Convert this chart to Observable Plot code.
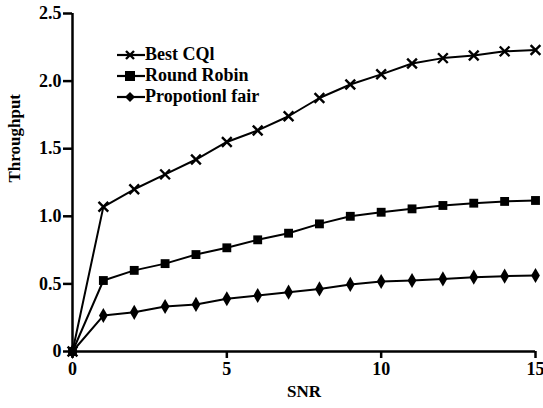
<!DOCTYPE html>
<html><head><meta charset="utf-8">
<script src="https://cdn.jsdelivr.net/npm/d3@7"></script>
<script src="https://cdn.jsdelivr.net/npm/@observablehq/plot@0.6"></script>
<style>
body{margin:0;background:#fff;}
#wrap{position:relative;width:543px;height:408px;}
#legend{position:absolute;left:116px;top:44px;font-family:"Liberation Serif","Times New Roman",serif;font-weight:bold;font-size:18px;color:#000;line-height:21px;}
#legend div{height:21px;display:flex;align-items:center;white-space:nowrap;}
#legend svg{margin-right:0px;}
</style>
</head><body>
<div id="wrap"><div id="chart"></div><div id="legend"></div></div>
<script>
const snr = [0,1,2,3,4,5,6,7,8,9,10,11,12,13,14,15];
const bestCQI = [0,1.07,1.20,1.31,1.42,1.55,1.635,1.74,1.875,1.975,2.05,2.13,2.17,2.19,2.22,2.23];
const roundRobin = [0,0.525,0.60,0.65,0.717,0.767,0.826,0.875,0.944,1.0,1.03,1.055,1.08,1.097,1.11,1.117];
const propFair = [0,0.266,0.29,0.333,0.348,0.39,0.414,0.439,0.463,0.496,0.518,0.525,0.537,0.55,0.557,0.562];
const seriesNames = ["Best CQl","Round Robin","Propotionl fair"];
const seriesSymbols = ["times","square","diamond"];
const xTicks = [0,5,10,15];
const yTicks = [0,0.5,1.0,1.5,2.0,2.5];
const yTickLabels = ["0","0.5","1.0","1.5","2.0","2.5"];

const all = [bestCQI, roundRobin, propFair];
const data = [];
all.forEach((vals,i)=>vals.forEach((v,j)=>data.push({x:snr[j],y:v,s:seriesNames[i],sym:seriesSymbols[i]})));

const font = '"Liberation Serif", "Times New Roman", serif';
const chart = Plot.plot({
  width:543, height:408,
  marginLeft:72, marginRight:8, marginTop:13, marginBottom:57,
  style:{fontFamily:font, fontSize:"18px", color:"#000", background:"#fff", overflow:"visible"},
  x:{domain:[0,15], label:null},
  y:{domain:[0,2.5], label:null},
  marks:[
    Plot.axisX({ticks:xTicks, tickSize:7, tickPadding:4, fontSize:18, fontWeight:"bold", fontFamily:font, stroke:"#000", strokeWidth:2.5, strokeOpacity:1, label:null}),
    Plot.axisY({ticks:yTicks, tickSize:9, tickPadding:2, fontSize:18, fontWeight:"bold", fontFamily:font, stroke:"#000", strokeWidth:2.5, strokeOpacity:1, label:null,
      tickFormat:d=>yTickLabels[yTicks.indexOf(d)]}),
    Plot.ruleX([0],{stroke:"#000",strokeWidth:2.5}),
    Plot.ruleY([0],{stroke:"#000",strokeWidth:2.5}),
    Plot.line(data,{x:"x",y:"y",z:"s",stroke:"#000",strokeWidth:2}),
    Plot.dot(data.filter(d=>d.sym==="times"),{x:"x",y:"y",symbol:"times",r:4.5,stroke:"#000",strokeWidth:2.4}),
    Plot.dot(data.filter(d=>d.sym==="square"),{x:"x",y:"y",symbol:"square",r:5,fill:"#000",stroke:"none"}),
    Plot.dot(data.filter(d=>d.sym==="diamond"),{x:"x",y:"y",symbol:"diamond",r:4.6,fill:"#000",stroke:"none"}),
    Plot.text(["SNR"],{frameAnchor:"bottom",dy:45,text:d=>d,fontWeight:"bold",fontSize:17,fontFamily:font}),
    Plot.text(["Throughput"],{frameAnchor:"left",dx:-58,rotate:-90,text:d=>d,fontWeight:"bold",fontSize:17,fontFamily:font})
  ]
});
document.getElementById("chart").appendChild(chart);

const leg = document.getElementById("legend");
seriesNames.forEach((name,i)=>{
  const row = document.createElement("div");
  const sym = seriesSymbols[i];
  let m = "";
  if(sym==="times") m = '<path d="M10,5 L18,13 M18,5 L10,13" stroke="#000" stroke-width="2.4"/>';
  if(sym==="square") m = '<rect x="9" y="4" width="10" height="10" fill="#000"/>';
  if(sym==="diamond") m = '<path d="M14,4 L19,9 L14,14 L9,9 Z" fill="#000"/>';
  row.innerHTML = '<svg width="29" height="18"><line x1="1" y1="9" x2="29" y2="9" stroke="#000" stroke-width="2.2"/>'+m+'</svg><span>'+name+'</span>';
  leg.appendChild(row);
});
</script>
</body></html>
